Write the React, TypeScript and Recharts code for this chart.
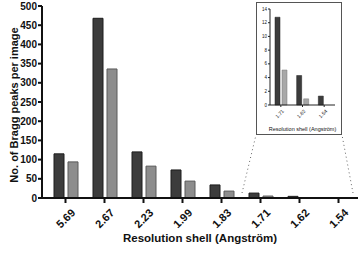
import { Bar, BarChart, Label, XAxis, YAxis } from 'recharts';

const shells = ['5.69', '2.67', '2.23', '1.99', '1.83', '1.71', '1.62', '1.54'];
const darkPeaks = [115, 468, 120, 73, 34, 12.8, 4.3, 1.3];
const lightPeaks = [94, 336, 83, 44, 18, 5.1, 0.9, 0];
const mainTicks = [0, 50, 100, 150, 200, 250, 300, 350, 400, 450, 500];

const insetShells = ['1.71', '1.62', '1.54'];
const insetDark = [12.8, 4.3, 1.3];
const insetLight = [5.1, 0.9, 0];
const insetTicks = [0, 2, 4, 6, 8, 10, 12, 14];

const FONT = '"Liberation Sans", Arial, sans-serif';
const DARK = '#3c3c3c';
const LIGHT = '#8d8d8d';

const rows = shells.map((s, i) => ({ shell: s, dark: darkPeaks[i], light: lightPeaks[i] }));
const insetRows = insetShells.map((s, i) => ({ shell: s, dark: insetDark[i], light: insetLight[i] }));

export default function App() {
  return (
    <div style={{ position: 'absolute', left: 0, top: 0, width: 360, height: 253, background: '#fff' }}>
      <BarChart
        width={360}
        height={253}
        data={rows}
        margin={{ top: 6, right: 2, left: 0, bottom: 0 }}
        barSize={10}
        barGap={4}
      >
        <XAxis
          dataKey="shell"
          height={55}
          padding={{ left: 4, right: 0 }}
          axisLine={{ stroke: '#111', strokeWidth: 2 }}
          tickLine={{ stroke: '#111', strokeWidth: 2 }}
          tickSize={5}
          interval={0}
          angle={-45}
          textAnchor="end"
          tick={{ fontSize: 11, fontWeight: 'bold', fontFamily: FONT, fill: '#111', dx: 5, dy: 3 }}
        >
          <Label
            value="Resolution shell (Angström)"
            position="insideBottom"
            offset={11}
            style={{ fontSize: 11.5, fontWeight: 'bold', fontFamily: FONT, fill: '#111' }}
          />
        </XAxis>
        <YAxis
          width={42}
          domain={[0, 500]}
          ticks={mainTicks}
          interval={0}
          axisLine={{ stroke: '#111', strokeWidth: 2 }}
          tickLine={{ stroke: '#111', strokeWidth: 2 }}
          tickSize={4}
          tickMargin={1}
          tick={{ fontSize: 10, fontWeight: 'bold', fontFamily: FONT, fill: '#111' }}
        >
          <Label
            content={({ viewBox }: any) => {
              const cy = viewBox.y + viewBox.height / 2 + 3;
              return (
                <text
                  x={14}
                  y={cy}
                  transform={`rotate(-90, 14, ${cy})`}
                  textAnchor="middle"
                  dominantBaseline="central"
                  fontSize={11}
                  fontWeight="bold"
                  fontFamily={FONT}
                  fill="#111"
                >
                  No. of Bragg peaks per image
                </text>
              );
            }}
          />
        </YAxis>
        <Bar dataKey="dark" fill={DARK} stroke="#1c1c1c" strokeWidth={1} isAnimationActive={false} />
        <Bar dataKey="light" fill={LIGHT} stroke="#5a5a5a" strokeWidth={1} isAnimationActive={false} />
      </BarChart>

      <svg width={360} height={253} style={{ position: 'absolute', left: 0, top: 0, pointerEvents: 'none' }}>
        <line x1={242} y1={193} x2={256} y2={135} stroke="#666" strokeWidth={1} strokeDasharray="1 3" />
        <line x1={353} y1={193} x2={342} y2={135} stroke="#666" strokeWidth={1} strokeDasharray="1 3" />
      </svg>

      <div
        style={{
          position: 'absolute',
          left: 256,
          top: 2,
          width: 86,
          height: 133,
          border: '1px solid #555',
          boxSizing: 'border-box',
          background: '#fff',
        }}
      >
        <BarChart
          width={84}
          height={131}
          data={insetRows}
          margin={{ top: 6, right: 6, left: 0, bottom: 0 }}
          barSize={5}
          barGap={2}
        >
          <XAxis
            dataKey="shell"
            height={29}
            axisLine={{ stroke: '#222', strokeWidth: 1 }}
            tickLine={{ stroke: '#222', strokeWidth: 1 }}
            tickSize={2}
            interval={0}
            angle={-45}
            textAnchor="end"
            tick={{ fontSize: 5, fontFamily: FONT, fill: '#111', dx: 1 }}
          >
            <Label
              value="Resolution shell (Angström)"
              position="insideBottom"
              offset={3}
              style={{ fontSize: 5.5, fontFamily: FONT, fill: '#111' }}
            />
          </XAxis>
          <YAxis
            width={13}
            domain={[0, 14]}
            ticks={insetTicks}
            interval={0}
            axisLine={{ stroke: '#222', strokeWidth: 1 }}
            tickLine={{ stroke: '#222', strokeWidth: 1 }}
            tickSize={2}
            tickMargin={1}
            tick={{ fontSize: 4.5, fontFamily: FONT, fill: '#111' }}
          />
          <Bar dataKey="dark" fill={DARK} stroke="#1c1c1c" strokeWidth={0.5} isAnimationActive={false} />
          <Bar dataKey="light" fill="#a8a8a8" stroke="#777" strokeWidth={0.5} isAnimationActive={false} />
        </BarChart>
      </div>
    </div>
  );
}
